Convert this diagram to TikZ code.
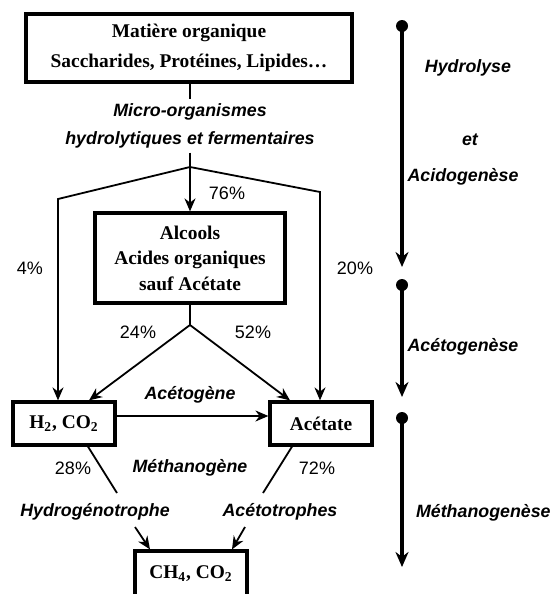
\documentclass[tikz,border=0pt]{standalone}
\usepackage{fontspec}
\setmainfont{Liberation Serif}
\newfontfamily\labelfont{Liberation Sans}
\usepackage{tikz}
\usetikzlibrary{arrows.meta, positioning}
\definecolor{mydark}{RGB}{0,0,0}
\tikzset{
  box/.style={rectangle, draw=mydark, line width=1.6pt, align=center,
    inner sep=0pt, font=\fontsize{9.7}{12.75}\selectfont\bfseries},
  stage/.style={align=center, inner sep=2pt,
    font=\labelfont\fontsize{8.9}{14}\selectfont\bfseries\itshape},
  pct/.style={font=\labelfont\fontsize{9}{10}\selectfont},
  arrow/.style={-{Stealth[length=6.5pt,width=5.5pt]}, line width=0.9pt, color=mydark},
  line/.style={line width=0.9pt, color=mydark},
  phase/.style={-{Stealth[length=7.5pt,width=6.5pt]}, line width=2pt, color=mydark},
  dot/.style={circle, fill=mydark, inner sep=0pt, minimum size=6pt}
}

\begin{document}
\begin{tikzpicture}[x=0.5pt, y=-0.5pt]
  \useasboundingbox (0,0) rectangle (554,594);

  % Boxes
  \node[box, minimum width=163pt, minimum height=34pt,
    font=\fontsize{9.7}{15}\selectfont\bfseries] (matiere) at (189,48)
    {Matière organique\\Saccharides, Protéines, Lipides…};
  \node[box, minimum width=95pt, minimum height=45pt] (alcools) at (190,258)
    {Alcools\\Acides organiques\\sauf Acétate};
  \node[box, minimum width=51pt, minimum height=21.5pt] (h2) at (64,423.5)
    {H\textsubscript{2}, CO\textsubscript{2}};
  \node[box, minimum width=51pt, minimum height=21.5pt] (acetate) at (321,423.5)
    {Acétate};
  \node[box, minimum width=56pt, minimum height=22.5pt] (ch4) at (191,573.5)
    {CH\textsubscript{4}, CO\textsubscript{2}};

  % Micro-organisms label and first split
  \node[stage] (micro) at (190,126) {Micro-organismes\\hydrolytiques et fermentaires};
  \draw[line] (micro.north |- matiere.south) -- (micro.north);
  \coordinate (fork) at (190,167);
  \coordinate (left) at (58,199);
  \coordinate (right) at (320,192);
  \draw[arrow] (micro.south) -- (alcools.north);
  \draw[arrow] (fork) -- (left) -- (left |- h2.north);
  \draw[arrow] (fork) -- (right) -- (right |- acetate.north);
  \node[pct] (p76) at (227,193) {76\%};
  \node[pct] (p4) at (30,268) {4\%};
  \node[pct] (p20) at (355,268) {20\%};

  % Second split
  \coordinate (fork2) at (190,325);
  \draw[line] (alcools.south) -- (fork2);
  \draw[arrow] (fork2) -- ([xshift=12.5pt]h2.north);
  \draw[arrow] (fork2) -- ([xshift=-15.5pt]acetate.north);
  \node[pct] (p24) at (138,332) {24\%};
  \node[pct] (p52) at (253,332) {52\%};

  % Acetogenesis
  \node[stage] (acetogene) at (190,395) {Acétogène};
  \draw[arrow] ([yshift=3.75pt]h2.east) -- ([yshift=3.75pt]acetate.west);

  % Methanogenesis
  \node[stage] (methanogene) at (190,468) {Méthanogène};
  \node[pct] (p28) at (73,468) {28\%};
  \node[pct] (p72) at (317,468) {72\%};
  \node[stage] (hydro) at (95,512) {Hydrogénotrophe};
  \node[stage] (aceto) at (280,512) {Acétotrophes};
  \coordinate (hydtop) at (117,493);
  \coordinate (acetop) at (263,493);
  \coordinate (hydbot) at (135,527);
  \coordinate (acebot) at (245,527);
  \draw[line] ([xshift=12pt]h2.south) -- (hydtop);
  \draw[line] ([xshift=-14.5pt]acetate.south) -- (acetop);
  \draw[arrow] (hydbot) -- ([xshift=-20.5pt]ch4.north);
  \draw[arrow] (acebot) -- ([xshift=20.5pt]ch4.north);

  % Phases on the right
  \node[dot] (d1) at (402,26) {};
  \node[dot] (d2) at (402,285) {};
  \node[dot] (d3) at (402,418) {};
  \coordinate (e1) at (402,267);
  \coordinate (e2) at (402,397);
  \coordinate (e3) at (402,567);
  \draw[phase] (d1.center) -- (e1);
  \draw[phase] (d2.center) -- (e2);
  \draw[phase] (d3.center) -- (e3);
  \node[stage] (hydrolyse) at (468,68) {Hydrolyse};
  \node[stage] (et) at (470,140) {et};
  \node[stage] (acido) at (463,177) {Acidogenèse};
  \node[stage] (acetogenese) at (463,347) {Acétogenèse};
  \node[stage, anchor=east, inner sep=1pt] (methanogenese) at (553,513) {Méthanogenèse};
\end{tikzpicture}
\end{document}
